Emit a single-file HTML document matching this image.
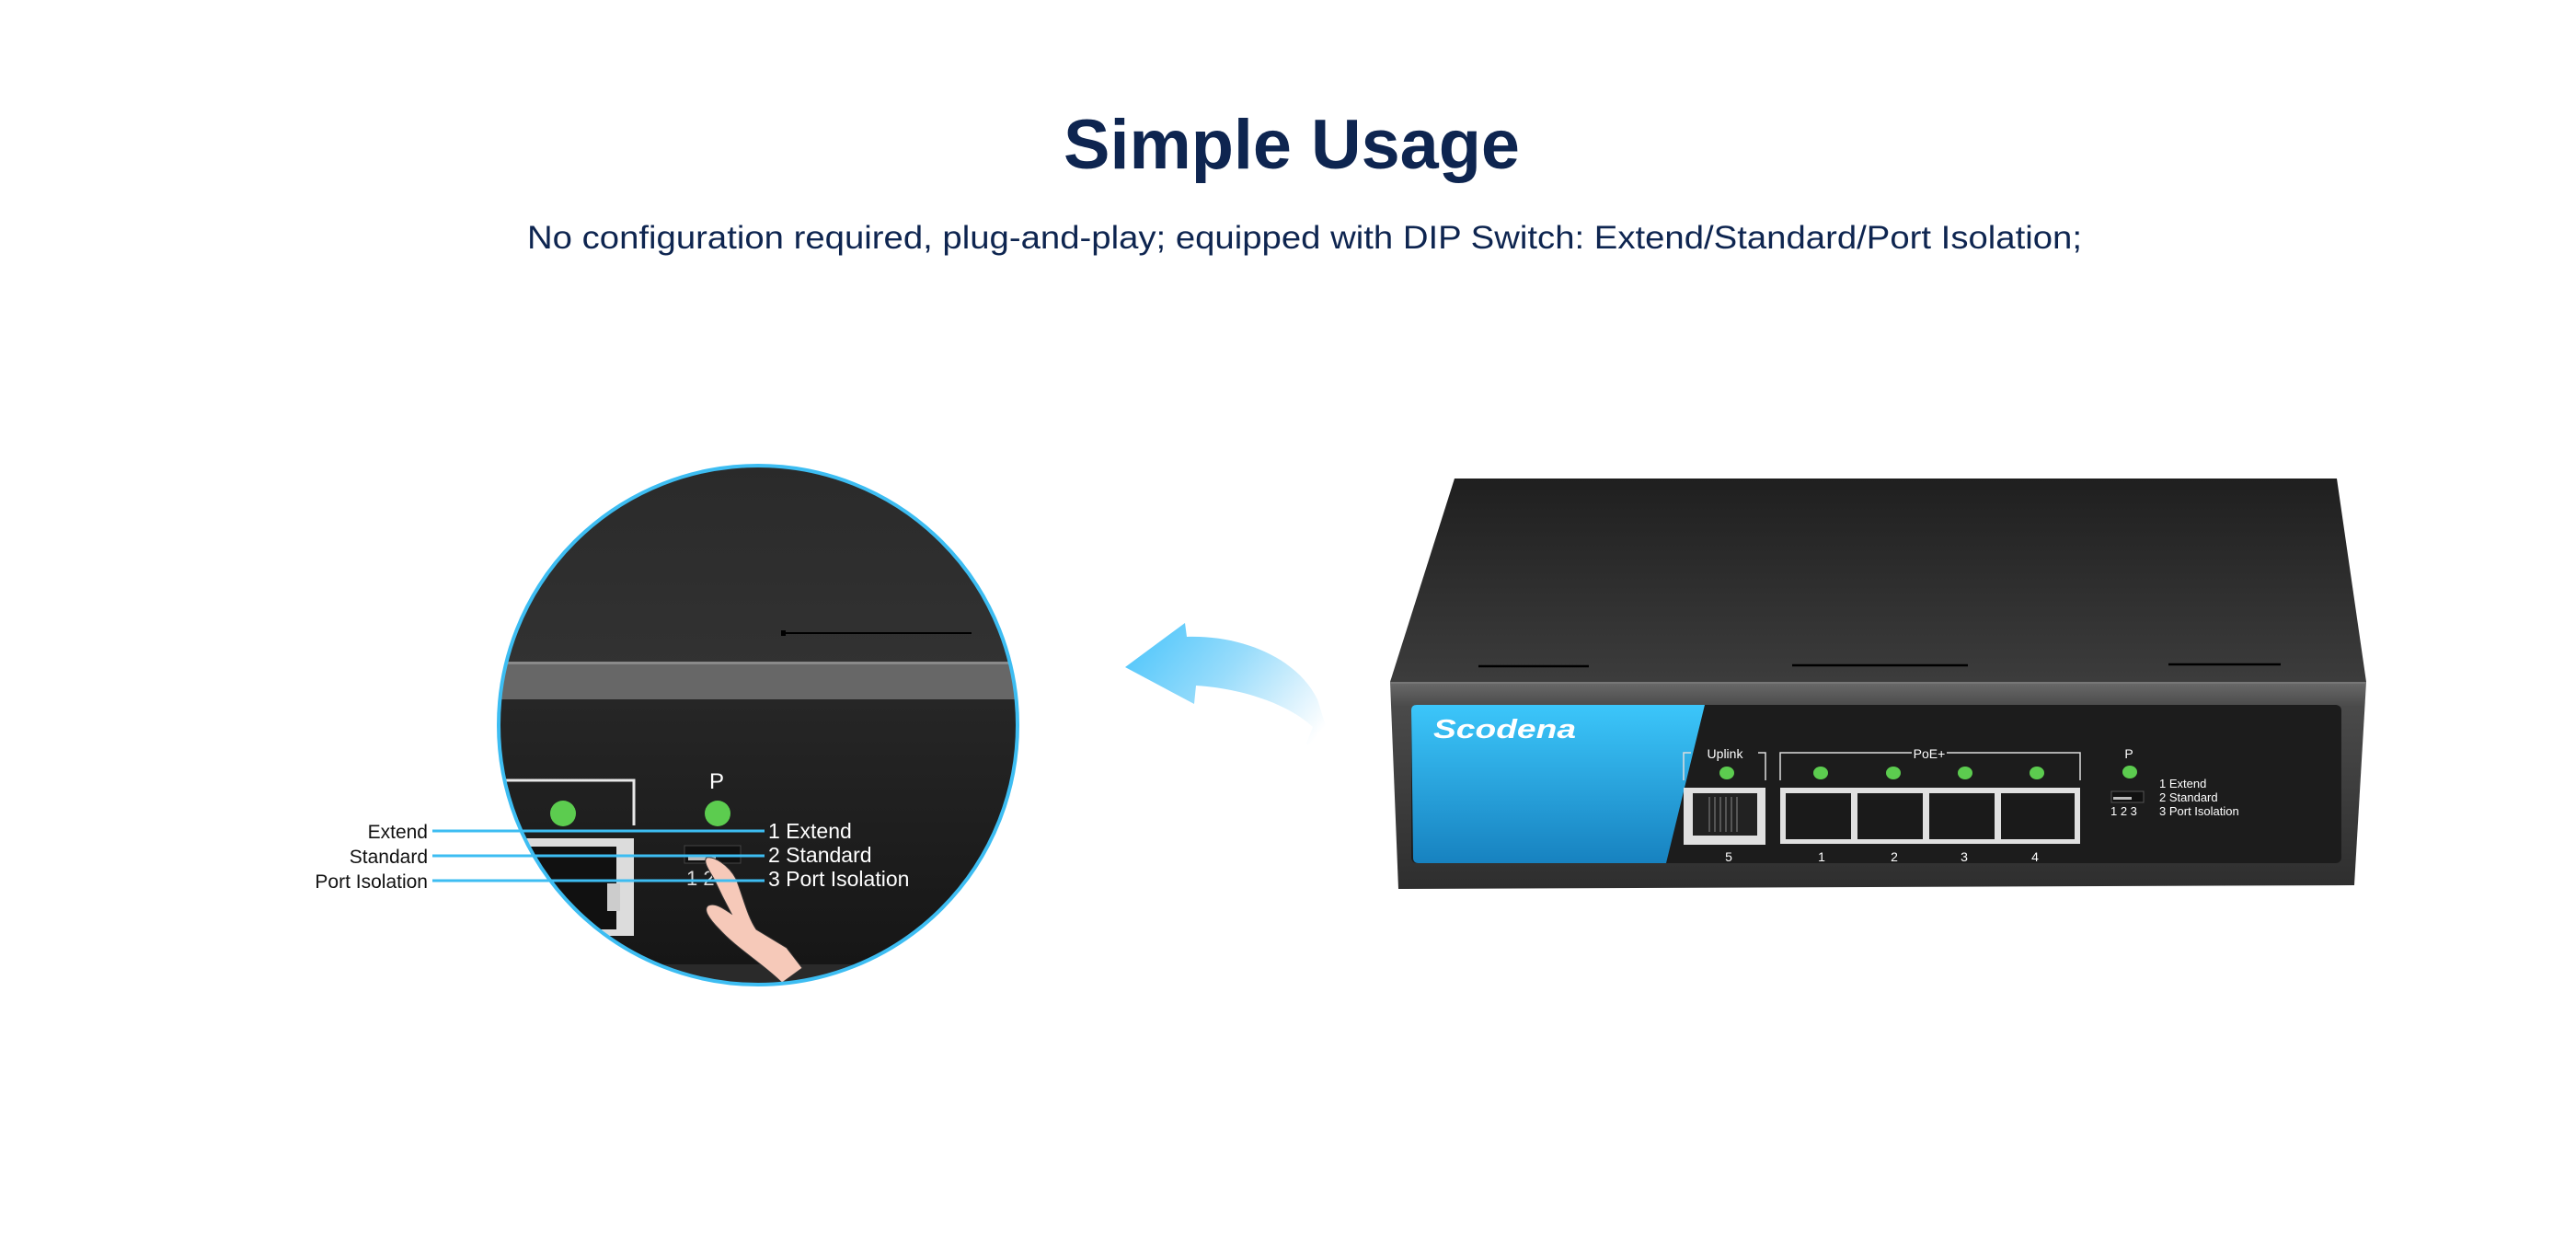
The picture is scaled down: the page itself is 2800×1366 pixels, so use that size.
<!DOCTYPE html>
<html><head><meta charset="utf-8"><style>
html,body{margin:0;padding:0;background:#fff;}
svg{display:block;}
text{font-family:"Liberation Sans",sans-serif;}
</style></head><body>
<svg width="2800" height="1366" viewBox="0 0 2800 1366" xmlns="http://www.w3.org/2000/svg">
<defs>
<linearGradient id="top" x1="0" y1="0" x2="0" y2="1"><stop offset="0" stop-color="#1f1f1f"/><stop offset="1" stop-color="#3c3c3c"/></linearGradient>
<linearGradient id="front" x1="0" y1="0" x2="0" y2="1"><stop offset="0" stop-color="#6a6a6a"/><stop offset="0.12" stop-color="#4a4a4a"/><stop offset="1" stop-color="#2e2e2e"/></linearGradient>
<linearGradient id="blue" x1="0" y1="0" x2="0" y2="1"><stop offset="0" stop-color="#3cc6fa"/><stop offset="1" stop-color="#1782c0"/></linearGradient>
<linearGradient id="arr" x1="0" y1="0" x2="1" y2="0.6"><stop offset="0" stop-color="#45c3fb"/><stop offset="0.5" stop-color="#98dcfb"/><stop offset="0.8" stop-color="#d8f1fd"/><stop offset="1" stop-color="#ffffff"/></linearGradient>
<linearGradient id="circ" x1="0" y1="0" x2="0" y2="1"><stop offset="0" stop-color="#2a2a2a"/><stop offset="1" stop-color="#3e3e3e"/></linearGradient>
<linearGradient id="circ2" x1="0" y1="0" x2="0" y2="1"><stop offset="0" stop-color="#262626"/><stop offset="1" stop-color="#161616"/></linearGradient>
<clipPath id="cc"><circle cx="824" cy="788" r="282"/></clipPath>
</defs>

<text x="1404" y="183" text-anchor="middle" font-size="76" font-weight="bold" fill="#0e2550" textLength="496" lengthAdjust="spacingAndGlyphs">Simple Usage</text>
<text x="1418" y="270" text-anchor="middle" font-size="35" fill="#0e2550" textLength="1690" lengthAdjust="spacingAndGlyphs">No configuration required, plug-and-play; equipped with DIP Switch: Extend/Standard/Port Isolation;</text>

<!-- zoom circle -->
<g clip-path="url(#cc)">
<rect x="530" y="500" width="600" height="580" fill="url(#circ)"/>
<rect x="530" y="720" width="600" height="40" fill="#676767"/>
<rect x="530" y="719" width="600" height="3" fill="#8a8a8a"/>
<rect x="530" y="760" width="600" height="290" fill="url(#circ2)"/>
<rect x="530" y="1048" width="600" height="40" fill="#2a2a2a"/>
<line x1="851" y1="688" x2="1056" y2="688" stroke="#000" stroke-width="2"/>
<rect x="849" y="685" width="5" height="6" fill="#000"/>
<polyline points="530,848 689,848 689,897" fill="none" stroke="#e8e8e8" stroke-width="3"/>
<rect x="560" y="911" width="129" height="106" fill="#dcdcdc"/>
<rect x="560" y="920" width="110" height="90" fill="#111"/>
<rect x="660" y="960" width="14" height="30" fill="#ccc"/>
<circle cx="612" cy="884" r="14" fill="#5ccc4f"/>
<circle cx="780" cy="884" r="14" fill="#5ccc4f"/>
<text x="779" y="857" text-anchor="middle" font-size="24" fill="#fff">P</text>
<rect x="744" y="919" width="61" height="19" fill="#111" stroke="#444"/>
<rect x="748" y="931" width="30" height="4" fill="#bbb"/>
<text x="746" y="962" font-size="22" fill="#ddd">1 2</text>
<path d="M768,932 C776,930 792,940 800,955 C808,975 812,995 822,1010 L855,1030 L872,1052 L850,1068 C830,1048 800,1030 782,1010 C770,998 764,988 770,984 C778,980 790,990 795,993 C788,980 782,968 776,955 C770,945 764,936 768,932 Z" fill="#f6c9b9" stroke="#333" stroke-width="1"/>
<text x="835" y="911" font-size="23" fill="#fff">1 Extend</text>
<text x="835" y="937" font-size="23" fill="#fff">2 Standard</text>
<text x="835" y="963" font-size="23" fill="#fff">3 Port Isolation</text>
</g>
<circle cx="824" cy="788" r="282" fill="none" stroke="#3dbdf2" stroke-width="4"/>
<line x1="470" y1="903" x2="831" y2="903" stroke="#3dbdf2" stroke-width="3"/>
<line x1="470" y1="930" x2="831" y2="930" stroke="#3dbdf2" stroke-width="3"/>
<line x1="470" y1="957" x2="831" y2="957" stroke="#3dbdf2" stroke-width="3"/>
<text x="465" y="911" text-anchor="end" font-size="21" fill="#111">Extend</text>
<text x="465" y="938" text-anchor="end" font-size="21" fill="#111">Standard</text>
<text x="465" y="965" text-anchor="end" font-size="21" fill="#111">Port Isolation</text>

<!-- arrow -->
<path d="M1223,725 L1288,677 L1290,692 C1350,690 1410,715 1432,760 L1450,818 L1447,845 L1420,808 L1427,790 C1400,765 1350,748 1300,745 L1298,765 Z" fill="url(#arr)"/>

<!-- switch -->
<polygon points="1581,520 2540,520 2572,741 1511,741" fill="url(#top)"/>
<polygon points="1511,741 2572,741 2559,962 1520,966" fill="url(#front)"/>
<line x1="1511" y1="742" x2="2572" y2="742" stroke="#777" stroke-width="2"/>
<g stroke="#000" stroke-width="2.5"><line x1="1607" y1="724" x2="1727" y2="724"/><line x1="1948" y1="723" x2="2139" y2="723"/><line x1="2357" y1="722" x2="2479" y2="722"/></g>
<rect x="1534" y="766" width="1011" height="172" rx="6" fill="#1c1c1c"/>
<path d="M1540,766 L1853,766 L1811,938 L1542,938 Q1536,938 1536,932 L1534,772 Q1534,766 1540,766 Z" fill="url(#blue)"/>
<text x="1558" y="802" font-size="29" font-weight="bold" font-style="italic" fill="#fff" textLength="155" lengthAdjust="spacingAndGlyphs">Scodena</text>
<g stroke="#ddd" stroke-width="1.5" fill="none">
<polyline points="1830,848 1830,818 1838,818"/><polyline points="1911,818 1919,818 1919,848"/>
<polyline points="1935,848 1935,818 2078,818"/><polyline points="2116,818 2261,818 2261,848"/>
</g>
<g font-size="14" fill="#fff" text-anchor="middle">
<text x="1875" y="824">Uplink</text><text x="2097" y="824">PoE+</text><text x="2314" y="824">P</text>
<text x="1879" y="936">5</text><text x="1980" y="936">1</text><text x="2059" y="936">2</text><text x="2135" y="936">3</text><text x="2212" y="936">4</text>
</g>
<g fill="#5ccc4f"><ellipse cx="1877" cy="840" rx="8" ry="7"/><ellipse cx="1979" cy="840" rx="8" ry="7"/><ellipse cx="2058" cy="840" rx="8" ry="7"/><ellipse cx="2136" cy="840" rx="8" ry="7"/><ellipse cx="2214" cy="840" rx="8" ry="7"/><ellipse cx="2315" cy="839" rx="8" ry="7"/></g>
<rect x="1830" y="856" width="89" height="62" fill="#e0e0e0"/>
<rect x="1840" y="862" width="70" height="46" fill="#222"/>
<g stroke="#888" stroke-width="1"><line x1="1858" y1="866" x2="1858" y2="904"/><line x1="1864" y1="866" x2="1864" y2="904"/><line x1="1870" y1="866" x2="1870" y2="904"/><line x1="1876" y1="866" x2="1876" y2="904"/><line x1="1882" y1="866" x2="1882" y2="904"/><line x1="1888" y1="866" x2="1888" y2="904"/></g>
<rect x="1935" y="856" width="326" height="61" fill="#e0e0e0"/>
<g fill="#1a1a1a"><rect x="1941" y="862" width="71" height="50"/><rect x="2019" y="862" width="71" height="50"/><rect x="2097" y="862" width="71" height="50"/><rect x="2175" y="862" width="80" height="50"/></g>
<rect x="2295" y="860" width="35" height="12" fill="#111" stroke="#555"/>
<rect x="2297" y="866" width="20" height="3" fill="#bbb"/>
<g font-size="13" fill="#fff"><text x="2294" y="886">1 2 3</text><text x="2347" y="856">1 Extend</text><text x="2347" y="871">2 Standard</text><text x="2347" y="886">3 Port Isolation</text></g>
</svg>
</body></html>
